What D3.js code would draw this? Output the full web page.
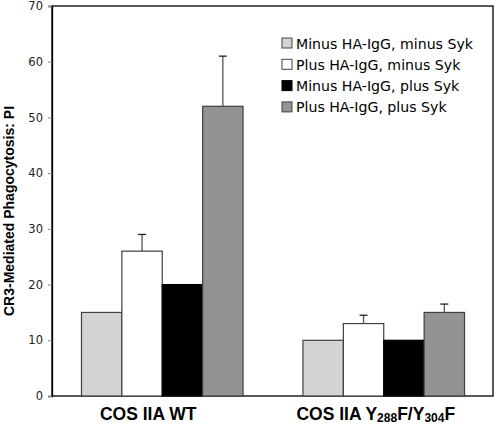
<!DOCTYPE html>
<html><head><meta charset="utf-8">
<script src="https://cdn.jsdelivr.net/npm/d3@7"></script>
<style>body{margin:0;background:#fff;} svg{display:block;font-family:"DejaVu Sans",Verdana,sans-serif;}</style>
</head><body>
<script>
const categories = ["COS IIA WT", "COS IIA Y288F/Y304F"];
const seriesNames = ["Minus HA-IgG, minus Syk", "Plus HA-IgG, minus Syk", "Minus HA-IgG, plus Syk", "Plus HA-IgG, plus Syk"];
const seriesColors = ["#d3d3d3", "#ffffff", "#000000", "#939393"];
const values = [[15, 26, 20, 52], [10, 13, 10, 15]];
const errors = [[0, 3, 0, 9], [0, 1.5, 0, 1.5]];
const yTicks = [0, 10, 20, 30, 40, 50, 60, 70];

const W = 496, H = 424;
const m = {l: 52, r: 3, t: 6, b: 28};
const svg = d3.select("body").append("svg").attr("width", W).attr("height", H);

const x0 = d3.scaleBand().domain(categories).range([m.l, W - m.r]).padding(0);
const x1 = d3.scaleBand().domain(d3.range(4)).range([0, x0.bandwidth()]).paddingInner(0).paddingOuter(0.73);
const y = d3.scaleLinear().domain([0, 70]).range([H - m.b, m.t]);

// frame
svg.append("rect").attr("x", m.l).attr("y", m.t).attr("width", W - m.r - m.l).attr("height", H - m.b - m.t)
  .attr("fill", "none").attr("stroke", "#000").attr("stroke-width", 1.3);

const groups = svg.selectAll("g.grp").data(categories).enter().append("g")
  .attr("transform", (d, i) => `translate(${x0(d) + (i === 1 ? 1 : 0)},0)`);
groups.each(function(c, gi) {
  const g = d3.select(this);
  values[gi].forEach((v, i) => {
    g.append("rect").attr("x", x1(i)).attr("width", x1.bandwidth())
      .attr("y", y(v)).attr("height", y(0) - y(v))
      .attr("fill", seriesColors[i]).attr("stroke", i === 2 ? "#000" : "#404040").attr("stroke-width", 1.2);
    const e = errors[gi][i];
    if (e > 0) {
      const cx = x1(i) + x1.bandwidth() / 2;
      g.append("line").attr("x1", cx).attr("x2", cx).attr("y1", y(v)).attr("y2", y(v + e))
        .attr("stroke", "#555").attr("stroke-width", 1.3);
      g.append("line").attr("x1", cx - 4).attr("x2", cx + 4).attr("y1", y(v + e)).attr("y2", y(v + e))
        .attr("stroke", "#222").attr("stroke-width", 1.3);
    }
  });
});

// y axis
const yAxis = svg.append("g").attr("transform", `translate(${m.l},0)`)
  .call(d3.axisLeft(y).tickValues(yTicks).tickSize(4).tickPadding(5));
yAxis.select(".domain").attr("stroke", "#000").attr("stroke-width", 1.3);
yAxis.selectAll(".tick line").attr("stroke", "#888");
yAxis.selectAll("text").attr("font-size", 11.5).attr("fill", "#222").attr("font-family", "DejaVu Sans, Verdana, sans-serif");

// y title
svg.append("text").attr("transform", `translate(14,211) rotate(-90)`)
  .attr("text-anchor", "middle").attr("font-weight", "bold").attr("font-size", 14)
  .attr("font-family", "Liberation Sans, Arial, sans-serif")
  .text("CR3-Mediated Phagocytosis: PI");

// x labels
const xl = svg.append("g").attr("font-family", "Liberation Sans, Arial, sans-serif")
  .attr("font-weight", "bold").attr("font-size", 17.5);
xl.append("text").attr("x", x0(categories[0]) + x0.bandwidth() / 2 - 14).attr("y", 420)
  .attr("text-anchor", "middle").text("COS IIA WT");
const t2 = xl.append("text").attr("x", x0(categories[1]) + x0.bandwidth() / 2 - 7).attr("y", 420)
  .attr("text-anchor", "middle");
t2.append("tspan").text("COS IIA Y");
t2.append("tspan").attr("font-size", 12).attr("dy", 1.5).text("288");
t2.append("tspan").attr("dy", -1.5).text("F/Y");
t2.append("tspan").attr("font-size", 12).attr("dy", 1.5).text("304");
t2.append("tspan").attr("dy", -1.5).text("F");

// legend
const lg = svg.append("g").attr("transform", "translate(282,38)");
const legTexts = [];
seriesNames.forEach((n, i) => {
  const row = lg.append("g").attr("transform", `translate(0,${i * 21.3})`);
  row.append("rect").attr("x", 0).attr("y", 0).attr("width", 10).attr("height", 10)
    .attr("fill", seriesColors[i]).attr("stroke", i === 2 ? "#000" : "#444").attr("stroke-width", 1);
  legTexts.push(row.append("text").attr("x", 14).attr("y", 10.5).attr("font-size", 13)
    .attr("fill", "#000").text(n));
});
// fit legend text width to the reference's span
const w0 = legTexts[0].node().getComputedTextLength();
const fs = Math.min(15, Math.max(12, 13 * 177 / w0));
legTexts.forEach(t => t.attr("font-size", fs));
</script>
</body></html>
